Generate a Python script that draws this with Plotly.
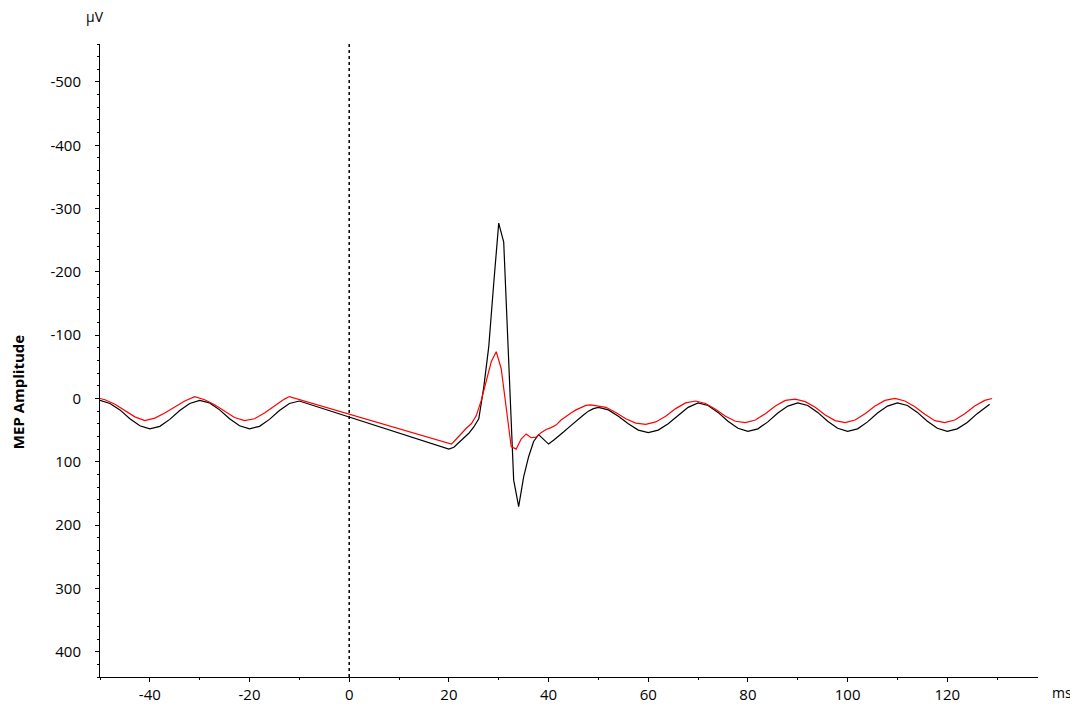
import plotly.graph_objects as go

# ---- data (ms, µV) ----
black_t = [-50, -48, -46, -44, -42, -40, -38, -36, -34, -32, -30, -28, -26, -24, -22, -20,
           -18, -16, -14, -12, -10,
           20, 21, 22, 23, 24, 25, 26, 27, 28, 29, 30, 31, 32, 33, 34, 35, 36, 37, 38, 39,
           40, 41, 42, 43, 44, 45, 46, 47, 48, 49, 50,
           52, 54, 56, 58, 60, 62, 64, 66, 68, 70, 72, 74, 76, 78, 80, 82, 84, 86, 88, 90,
           92, 94, 96, 98, 100, 102, 104, 106, 108, 110, 112, 114, 116, 118, 120, 122, 124,
           126, 128, 128.5]
black_v = [3, 8, 18, 32, 43, 48, 44, 33, 19, 8, 3, 7, 18, 32, 43, 48,
           44, 33, 19, 8, 4,
           80, 77, 70, 62, 55, 45, 32, -18, -82, -182, -277, -247, -59, 129, 171, 124, 92, 68, 57, 64,
           72, 66, 60, 53, 46, 39, 32, 26, 20, 16, 14,
           18, 28, 40, 50, 54, 50, 40, 27, 14, 7, 11, 22, 36, 47, 52, 48, 37, 23, 12, 7,
           11, 22, 36, 47, 52, 48, 37, 23, 12, 7, 11, 22, 36, 47, 52, 48, 38,
           24, 11, 9]

red_t = [-50, -49, -47, -45, -43, -41, -39, -37, -35, -33, -31, -29, -27, -25, -23, -21,
         -19, -17, -15, -13, -12,
         20.5, 21.5, 22.5, 23.5, 24.5, 25.5, 26.5, 27.5, 28.5, 29.5, 30.5, 32.5, 33.5, 34.5,
         35.5, 36.5, 37.5, 38.5, 39.5, 40.5, 41.5, 42.5, 43.5, 44.5, 45.5, 46.5, 47.5, 48.5,
         49.5, 51.5, 53.5, 55.5, 57.5, 59.5, 61.5, 63.5, 65.5, 67.5, 69.5, 71.5, 73.5, 75.5,
         77.5, 79.5, 81.5, 83.5, 85.5, 87.5, 89.5, 91.5, 93.5, 95.5, 97.5, 99.5, 101.5, 103.5,
         105.5, 107.5, 109.5, 111.5, 113.5, 115.5, 117.5, 119.5, 121.5, 123.5, 125.5, 127.5, 129]
red_v = [0, 2, 9, 19, 29, 35, 31, 23, 13, 4, -3, 2, 10, 20, 30, 35,
         32, 23, 12, 1, -3,
         72, 64, 55, 47, 40, 27, 3, -28, -58, -74, -47, 76, 80, 64,
         56, 62, 61, 54, 49, 46, 42, 34, 28, 23, 18, 14, 11, 10,
         11, 14, 22, 32, 39, 41, 37, 28, 16, 7, 4, 8, 17, 28,
         36, 38, 34, 24, 12, 3, 1, 5, 14, 26, 35, 38, 34, 24,
         12, 3, 0, 4, 13, 25, 35, 38, 34, 24, 12, 3, 0]

x_ticks = [-40, -20, 0, 20, 40, 60, 80, 100, 120]
y_ticks = [-500, -400, -300, -200, -100, 0, 100, 200, 300, 400]

FONT = "Open Sans"

fig = go.Figure()
fig.add_trace(go.Scatter(x=black_t, y=black_v, mode="lines",
                         line=dict(color="black", width=1.2), showlegend=False))
fig.add_trace(go.Scatter(x=red_t, y=red_v, mode="lines",
                         line=dict(color="#ff0000", width=1.2), showlegend=False))

fig.add_shape(type="line", xref="x", yref="paper", x0=0, x1=0, y0=0, y1=1,
              line=dict(color="black", width=1.5, dash="dot"))

# page body adds an 8px offset; figure sized to compensate
fig.update_layout(
    width=1070, height=701,
    margin=dict(l=92, r=40, t=36, b=32),
    paper_bgcolor="white", plot_bgcolor="white",
    font=dict(family=FONT, size=15, color="black"),
    xaxis=dict(range=[-50, 138.2], tickvals=x_ticks, ticktext=[str(v) for v in x_ticks],
               automargin=False,
               showgrid=False, zeroline=False, showline=True, linecolor="black", linewidth=1,
               ticks="outside", ticklen=4, tickcolor="black", tickwidth=1,
               ticklabelstandoff=0,
               minor=dict(ticks="outside", dtick=10, tick0=0, ticklen=2, tickcolor="black", showgrid=False),
               tickfont=dict(family=FONT, size=15)),
    yaxis=dict(range=[440, -560], tickvals=y_ticks, ticktext=[str(v) for v in y_ticks],
               automargin=False,
               showgrid=False, zeroline=False, showline=True, linecolor="black", linewidth=1,
               ticks="outside", ticklen=4, tickcolor="black", tickwidth=1,
               ticklabelstandoff=11,
               minor=dict(ticks="outside", dtick=20, tick0=0, ticklen=2, tickcolor="black", showgrid=False),
               tickfont=dict(family=FONT, size=15)),
    annotations=[
        dict(text="<b>MEP Amplitude</b>", textangle=-90, xref="paper", yref="paper",
             x=-0.0874, y=0.45, xanchor="center", yanchor="middle", showarrow=False,
             font=dict(family=FONT, size=15, color="black")),
        dict(text="µV", xref="paper", yref="paper", x=-0.0053, y=1.0427,
             xanchor="center", yanchor="middle", showarrow=False,
             font=dict(family=FONT, size=14, color="black")),
        dict(text="ms", xref="paper", yref="paper", x=1.0256, y=-0.0237,
             xanchor="center", yanchor="middle", showarrow=False,
             font=dict(family=FONT, size=14, color="black")),
    ],
)

fig.write_html("out.html")
